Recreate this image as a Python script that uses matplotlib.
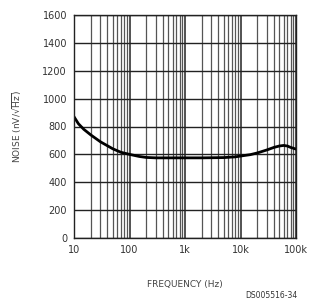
import matplotlib
matplotlib.use("Agg")
import matplotlib.pyplot as plt
import numpy as np

freq = [10, 12, 15, 20, 30, 50, 70, 100, 150, 200, 300, 500, 1000, 2000, 5000, 8000, 10000, 15000, 20000, 30000, 40000, 50000, 60000, 70000, 80000, 100000]
noise = [870, 820, 780, 740, 690, 640, 615, 600, 585, 578, 575, 575, 575, 575, 577, 582, 588, 598, 610, 632, 650, 660, 664, 660, 650, 638]
yticks = [0, 200, 400, 600, 800, 1000, 1200, 1400, 1600]
xticks = [10, 100, 1000, 10000, 100000]
xticklabels = ["10", "100", "1k", "10k", "100k"]

fig = plt.figure(figsize=(3.10, 3.03), dpi=100)
ax = fig.add_axes([74/310, 1-238/303, 222/310, 223/303])
ax.set_xscale('log')
ax.set_xlim(10, 100000)
ax.set_ylim(0, 1600)
ax.set_yticks(yticks)
ax.set_xticks(xticks)
ax.set_xticklabels(xticklabels)
ax.xaxis.set_minor_locator(matplotlib.ticker.LogLocator(base=10, subs=np.arange(2, 10)))
ax.xaxis.set_minor_formatter(matplotlib.ticker.NullFormatter())
ax.xaxis.grid(True, which='minor', color='#555555', linewidth=0.9)
ax.xaxis.grid(True, which='major', color='#444444', linewidth=1.3)
ax.yaxis.grid(True, which='major', color='#222222', linewidth=1.0)
ax.set_axisbelow(True)
ax.tick_params(which='both', length=0, labelsize=7, colors='#333333', pad=5)
for s in ax.spines.values():
    s.set_color('#222222')
    s.set_linewidth(1.0)
ax.plot(freq, noise, color='black', linewidth=2)
ax.set_xlabel('FREQUENCY (Hz)', fontsize=6.5, color='#444444', labelpad=18)
ax.set_ylabel(r'NOISE (nV/$\sqrt{\mathrm{Hz}}$)', fontsize=6.5, color='#444444', labelpad=13)
fig.text(298/310, 1-295/303, 'DS005516-34', fontsize=5.5, color='#333333', ha='right', va='center')
fig.savefig('out.png', dpi=100)
